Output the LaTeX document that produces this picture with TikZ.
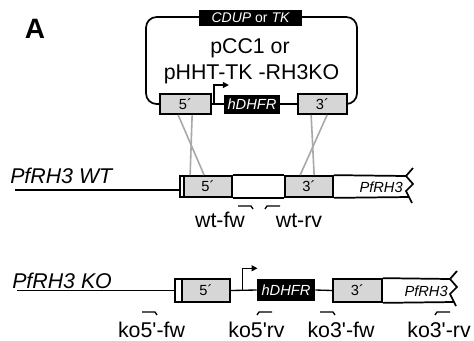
\documentclass[tikz,border=0pt]{standalone}
\usepackage{fontspec}
\setmainfont{Liberation Sans}
\usepackage{tikz}
\usetikzlibrary{calc,arrows.meta,positioning}
\definecolor{HomFill}{HTML}{D6D6D6}
\definecolor{CrossGray}{HTML}{A8A8A8}
\newcommand{\pr}{\textquotesingle}

\begin{document}
\begin{tikzpicture}[x=0.75pt,y=-0.75pt,
  homol/.style={draw,line width=1.3pt,fill=HomFill,inner sep=0pt,font=\fontsize{11}{13}\selectfont},
  marker/.style={fill=black,text=white,inner sep=0pt,font=\fontsize{11}{13}\selectfont\itshape},
  lbl/.style={inner sep=0pt,font=\fontsize{16}{19}\selectfont},
  small/.style={inner sep=0pt,font=\fontsize{11}{13}\selectfont\itshape},
  dna/.style={line width=0.8pt},
  edge/.style={line width=1.3pt},
  cross/.style={CrossGray,line width=1.2pt},
  prom/.style={line width=1pt,-{Triangle[length=4.5pt,width=4.5pt]}},
  primer/.style={line width=1pt},
  zz/.pic={\draw[edge] (7,-8) -- (0,0) -- (7,8) -- (0,15) -- (6,27);}]
  \useasboundingbox (0,0) rectangle (474,340);
  \node[font=\fontsize{21}{21}\selectfont\bfseries,anchor=base] (panel) at (35,38) {A};

  % plasmid
  \node[homol,minimum width=38.25pt,minimum height=15pt] (pl5) at (185.5,104) {5´};
  \node[marker,minimum width=42pt,minimum height=14.25pt] (pldh) at (252,104) {hDHFR};
  \node[homol,minimum width=36.75pt,minimum height=15pt] (pl3) at (322.5,104) {3´};
  \draw[edge] (pl5.east) -- (pldh.west) (pldh.east) -- (pl3.west);
  \draw[edge,rounded corners=8pt] (pl5.west) -- (146,104) -- (146,17) -- (357,17) -- (357,104) -- (pl3.east);
  \node[marker,minimum width=77.25pt,minimum height=11.5pt,font=\fontsize{10.5}{12}\selectfont\itshape] (sel) at (250.5,18) {CDUP \upshape or \itshape TK};
  \node[lbl,anchor=base] (pname) at (250,53) {pCC1 or};
  \node[lbl,anchor=base] (pname2) at (251.5,79) {pHHT-TK -RH3KO};
  \draw[prom] ($(pl5.east)+(2,0)$) -- ++(0,-19) -- ++(15,0);

  % wild type locus
  \node[lbl,anchor=base west] (wtlbl) at (10,183) {\itshape PfRH3 WT};
  \node[homol,fill=white,minimum width=3pt,minimum height=15.75pt] (ws) at (182,186.5) {};
  \node[homol,minimum width=36pt,minimum height=15.75pt] (gw5) at (208,186.5) {5´};
  \node[homol,minimum width=36pt,minimum height=15.75pt] (gw3) at (309,186.5) {3´};
  \coordinate (wtend) at (406,176);
  \draw[dna] (15,190) -- (ws.west |- 0,190);
  \draw[edge] (gw5.north east) -- (gw3.north west) (gw5.south east) -- (gw3.south west);
  \draw[edge] (gw3.north east) -- (wtend) (gw3.south east) -- (409,197);
  \pic at (wtend) {zz};
  \node[small,anchor=east] (wtgene) at (403,187) {PfRH3};

  % crossover
  \draw[cross] ($(pl5.south west)+(19,0)$) -- ($(gw5.north west)+(21,0)$);
  \draw[cross] ($(pl5.south west)+(33,0)$) -- ($(gw5.north west)+(7,0)$);
  \draw[cross] ($(pl3.south west)+(14,0)$) -- ($(gw3.north west)+(30,0)$);
  \draw[cross] ($(pl3.south west)+(30,0)$) -- ($(gw3.north west)+(16,0)$);

  % knockout locus
  \node[lbl,anchor=base west] (kolbl) at (12,288) {\itshape PfRH3 KO};
  \node[homol,fill=white,minimum width=5.25pt,minimum height=17.25pt] (ks) at (178.5,290.5) {};
  \node[homol,minimum width=36pt,minimum height=17.25pt] (gk5) at (206,290.5) {5´};
  \node[marker,minimum width=43.5pt,minimum height=16.5pt] (kdh) at (286,290) {hDHFR};
  \node[homol,minimum width=36.75pt,minimum height=17.25pt] (gk3) at (357.5,290.5) {3´};
  \coordinate (koend) at (450,279);
  \draw[dna] (17,290.5) -- (ks.west);
  \draw[dna,line width=1pt] (gk5.east) -- (kdh.west) (kdh.east) -- (gk3.west);
  \draw[prom] ($(gk5.east)!0.45!(kdh.west)$) -- ++(0,-22) -- ++(15,0);
  \draw[edge] (gk3.north east) -- (koend) (gk3.south east) -- (454,302);
  \pic at (koend) {zz};
  \node[small,anchor=east] (kogene) at (448,291) {PfRH3};

  % primers
  \foreach \x/\y in {238/206,142/312,320/312}
    \draw[primer] (\x,\y) -- ++(13,0) -- ++(2,3);
  \foreach \x/\y in {280/206,272/312,450/312}
    \draw[primer] (\x,\y) -- ++(-13,0) -- ++(-2,3);
  \node[lbl,anchor=base] (wtfw) at (220,227) {wt-fw};
  \node[lbl,anchor=base] (wtrv) at (299,227) {wt-rv};
  \node[lbl,anchor=base] (kofw5) at (151.5,337) {ko5\pr-fw};
  \node[lbl,anchor=base] (korv5) at (256.5,337) {ko5\pr rv};
  \node[lbl,anchor=base] (kofw3) at (341,337) {ko3\pr-fw};
  \node[lbl,anchor=base] (korv3) at (439,337) {ko3\pr-rv};
\end{tikzpicture}
\end{document}
